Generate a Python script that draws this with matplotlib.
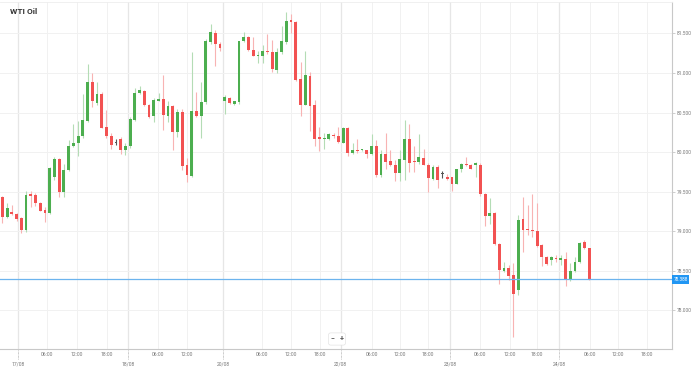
import matplotlib
matplotlib.use("Agg")
import matplotlib.pyplot as plt
import matplotlib.transforms as mtransforms
import numpy as np

plt.rcParams['font.family'] = ['Roboto', 'DejaVu Sans']

# hourly WTI candles
opens = [79.43, 79.18, 79.24, 79.22, 79.16, 79.01, 79.46, 79.46, 79.36, 79.27,
         79.23, 79.68, 79.91, 79.49, 79.77, 80.07, 80.11, 80.20, 80.39, 80.88,
         80.62, 80.74, 80.32, 80.20, 80.11, 80.16, 80.02, 80.07, 80.41, 80.75,
         80.77, 80.60, 80.45, 80.65, 80.67, 80.46, 80.58, 80.25, 80.51, 79.83,
         79.70, 80.52, 80.45, 80.63, 81.39, 81.51, 81.37, 80.64, 80.68, 80.61,
         80.63, 81.40, 81.46, 81.29, 81.21, 81.22, 81.28, 81.26, 81.04, 81.26,
         81.39, 81.67, 81.65, 80.93, 80.60, 80.96, 80.59, 80.19, 80.16, 80.16,
         80.22, 80.20, 80.12, 80.30, 79.99, 80.02, 80.02, 80.02, 79.97, 80.08,
         79.71, 79.97, 79.89, 79.83, 79.73, 79.90, 80.16, 79.88, 79.87, 79.92,
         79.84, 79.66, 79.81, 79.72, 79.68, 79.68, 79.60, 79.78, 79.84, 79.84,
         79.83, 79.84, 79.47, 79.19, 79.23, 78.84, 78.50, 78.53, 78.44, 78.26,
         79.15, 79.03, 79.02, 79.00, 78.82, 78.67, 78.64, 78.66, 78.64, 78.65,
         78.38, 78.50, 78.61, 78.86, 78.78]
highs = [79.45, 79.36, 79.33, 79.23, 79.18, 79.51, 79.51, 79.48, 79.37, 79.31,
         79.81, 79.94, 79.93, 79.85, 80.15, 80.36, 80.39, 80.74, 81.11, 81.00,
         80.88, 80.76, 80.53, 80.24, 80.16, 80.19, 80.11, 80.44, 80.81, 80.83,
         80.78, 80.61, 80.68, 80.75, 80.98, 80.65, 80.59, 80.55, 80.54, 79.92,
         81.26, 80.76, 80.89, 81.43, 81.62, 81.54, 81.39, 80.72, 80.69, 80.65,
         81.41, 81.52, 81.47, 81.45, 81.28, 81.36, 81.49, 81.42, 81.31, 81.59,
         81.77, 81.75, 81.66, 81.14, 81.28, 81.01, 80.66, 80.32, 80.24, 80.24,
         80.24, 80.32, 80.32, 80.32, 80.11, 80.17, 80.04, 80.03, 80.23, 80.15,
         80.02, 80.24, 80.02, 79.90, 80.02, 80.40, 80.36, 80.07, 80.23, 80.04,
         79.86, 79.83, 79.83, 79.76, 79.72, 79.69, 79.79, 79.86, 79.94, 79.85,
         79.87, 79.86, 79.48, 79.42, 79.24, 78.85, 78.61, 78.57, 78.59, 79.20,
         79.43, 79.33, 79.47, 79.36, 78.84, 78.68, 78.68, 78.70, 78.70, 78.74,
         78.60, 78.67, 78.86, 78.89, 78.79]
lows = [79.10, 79.16, 79.20, 79.13, 78.98, 78.99, 79.31, 79.32, 79.25, 79.11,
        79.22, 79.65, 79.43, 79.43, 79.76, 80.06, 79.95, 80.18, 80.38, 80.57,
        80.60, 80.30, 80.18, 80.04, 80.09, 79.98, 79.96, 80.05, 80.39, 80.74,
        80.58, 80.43, 80.38, 80.64, 80.28, 80.38, 80.02, 80.19, 79.77, 79.62,
        79.68, 80.44, 80.18, 80.61, 81.37, 81.09, 81.28, 80.48, 80.61, 80.60,
        80.61, 81.39, 81.28, 81.21, 81.12, 81.12, 81.24, 81.01, 81.00, 81.24,
        81.37, 81.50, 80.90, 80.46, 80.59, 80.27, 80.08, 80.01, 80.04, 80.15,
        80.18, 80.11, 80.11, 79.95, 79.98, 79.99, 80.01, 79.93, 79.96, 79.69,
        79.69, 79.79, 79.82, 79.63, 79.63, 79.64, 79.75, 79.75, 79.85, 79.83,
        79.49, 79.64, 79.55, 79.67, 79.65, 79.51, 79.59, 79.75, 79.82, 79.78,
        79.69, 79.45, 79.07, 79.09, 78.83, 78.33, 78.48, 78.38, 77.66, 78.19,
        78.74, 78.95, 78.92, 78.80, 78.56, 78.57, 78.57, 78.61, 78.57, 78.30,
        78.37, 78.48, 78.60, 78.77, 78.385]
closes = [79.18, 79.29, 79.22, 79.15, 79.02, 79.46, 79.45, 79.36, 79.26, 79.23,
          79.80, 79.91, 79.49, 79.77, 80.07, 80.12, 80.20, 80.40, 80.88, 80.64,
          80.74, 80.31, 80.20, 80.09, 80.11, 80.03, 80.08, 80.42, 80.75, 80.78,
          80.59, 80.44, 80.66, 80.67, 80.47, 80.58, 80.25, 80.51, 79.82, 79.71,
          80.52, 80.45, 80.63, 81.40, 81.52, 81.37, 81.31, 80.69, 80.62, 80.64,
          81.40, 81.46, 81.29, 81.22, 81.22, 81.28, 81.26, 81.05, 81.26, 81.40,
          81.66, 81.65, 80.91, 80.60, 80.97, 80.58, 80.17, 80.17, 80.18, 80.23,
          80.20, 80.13, 80.30, 79.99, 80.02, 80.01, 80.03, 79.97, 80.08, 79.71,
          79.98, 79.87, 79.83, 79.73, 79.91, 80.17, 79.86, 79.87, 79.94, 79.84,
          79.67, 79.81, 79.65, 79.72, 79.66, 79.60, 79.78, 79.85, 79.83, 79.79,
          79.86, 79.47, 79.19, 79.23, 78.84, 78.51, 78.53, 78.43, 78.21, 79.14,
          79.02, 79.01, 79.00, 78.81, 78.67, 78.58, 78.67, 78.65, 78.65, 78.38,
          78.50, 78.61, 78.85, 78.78, 78.388]

# x axis labels (positions in candle units)
time_ticks = [9.4, 15.8, 22.1, 32.9, 39.0, 54.9, 61.0, 67.1, 78.1, 84.0, 89.9,
              100.9, 107.2, 113.0, 124.1, 130.1, 136.2]
time_labels = ["06:00", "12:00", "18:00", "06:00", "12:00", "06:00", "12:00", "18:00",
               "06:00", "12:00", "18:00", "06:00", "12:00", "18:00", "06:00", "12:00", "18:00"]
day_ticks = [3.4, 26.6, 46.6, 71.5, 94.6, 117.6]
day_labels = ["17/08", "18/08", "20/08", "22/08", "23/08", "24/08"]
price_ticks = [78.0, 78.5, 79.0, 79.5, 80.0, 80.5, 81.0, 81.5]

GREEN = "#4cae4f"
RED = "#f25252"
GREEN_W = "#b4dcb5"
RED_W = "#f8b3b3"
DOJI = "#555555"

o = np.array(opens)
h = np.array(highs)
l = np.array(lows)
c = np.array(closes)
x = np.arange(len(o))

fig = plt.figure(figsize=(6.99, 3.68), dpi=100)
ax = fig.add_axes([0.0, 0.052, 0.9614, 0.943])

up = c > o
down = c < o

wick_cols = np.where(up, GREEN_W, np.where(down, RED_W, DOJI))
ax.vlines(x, l, h, colors=wick_cols, linewidth=0.8, zorder=2)

body_bottom = np.minimum(o, c)
body_h = np.maximum(np.abs(c - o), 0.015)
body_cols = np.where(up, GREEN, np.where(down, RED, DOJI))
ax.bar(x, body_h, bottom=body_bottom, width=0.6, color=body_cols,
       linewidth=0, zorder=3)

# current price line + tag
last = closes[-1]
ax.axhline(last, color="#6cb4ee", linewidth=0.9, zorder=4)
tr = mtransforms.blended_transform_factory(ax.transAxes, ax.transData)
ax.text(1.002, last, f"{last:.3f}", transform=tr, fontsize=3.4, color="white",
        ha="left", va="center", zorder=5, clip_on=False,
        bbox=dict(boxstyle="square,pad=0.35", fc="#2196f3", ec="none"))

ax.set_xlim(-0.5, 141.5)
ax.set_ylim(77.51, 81.90)

ax.yaxis.tick_right()
ax.set_yticks(price_ticks, [f"{p:.3f}" for p in price_ticks])
ax.set_xticks(time_ticks, time_labels)
ax.set_xticks(day_ticks, day_labels, minor=True)

ax.tick_params(axis="y", which="major", length=2, width=0.5, color="#bbbbbb",
               labelsize=3.5, labelcolor="#777777", pad=1.5)
ax.tick_params(axis="x", which="major", length=0, labelsize=3.6,
               labelcolor="#777777", pad=2.5)
ax.tick_params(axis="x", which="minor", length=0, labelsize=3.6,
               labelcolor="#777777", pad=9)

ax.grid(True, which="major", color="#f1f1f1", linewidth=0.7, zorder=0)
ax.grid(True, which="minor", axis="x", color="#e6e6e6", linewidth=0.9, zorder=0)
ax.set_axisbelow(True)

# dotted day separators under the axis
trx = mtransforms.blended_transform_factory(ax.transData, ax.transAxes)
ax.vlines(day_ticks, -0.03, 0.0, transform=trx, colors="#999999",
          linewidth=0.5, linestyles=(0, (1, 1)), clip_on=False)

ax.spines["left"].set_visible(False)
ax.spines["top"].set_color("#eeeeee")
ax.spines["top"].set_linewidth(0.6)
ax.spines["right"].set_color("#c8c8c8")
ax.spines["bottom"].set_color("#c8c8c8")
ax.spines["right"].set_linewidth(0.8)
ax.spines["bottom"].set_linewidth(0.8)

fig.text(10 / 699, 1 - 12 / 368, "WTI Oil", fontsize=6, fontweight="bold",
         color="#333333", ha="left", va="center")

# zoom buttons
fig.text(337 / 699, 1 - 339 / 368, "\u2212   +", fontsize=5, color="#555555",
         ha="center", va="center", fontweight="bold",
         bbox=dict(boxstyle="round,pad=0.3,rounding_size=0.3", fc="white",
                   ec="#dddddd", lw=0.4))

fig.savefig("out.png", dpi=100, facecolor="white")
